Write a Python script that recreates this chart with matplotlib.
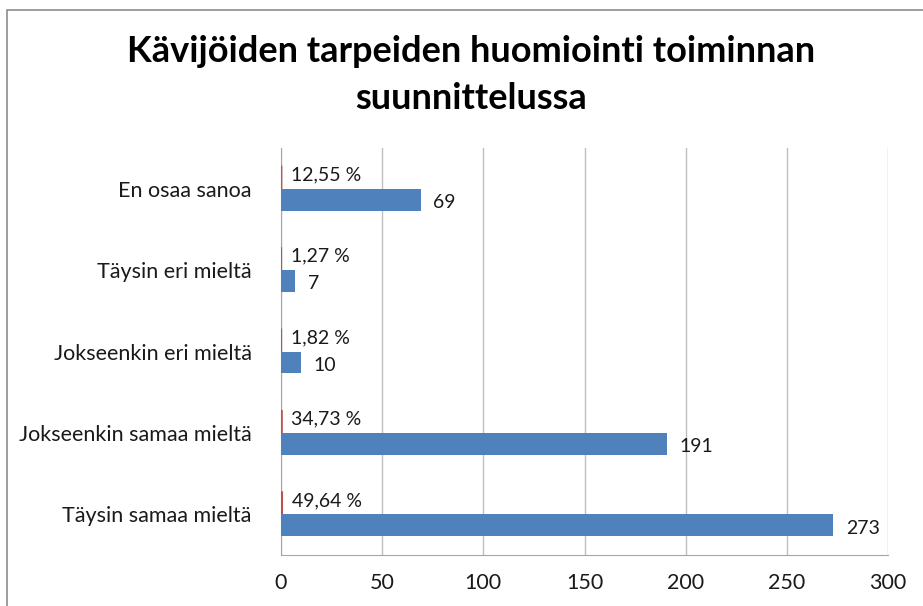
import numpy as np
import matplotlib.pyplot as plt
from matplotlib.patches import Rectangle

# categories from bottom to top
categories = ["Täysin samaa mieltä", "Jokseenkin samaa mieltä", "Jokseenkin eri mieltä",
              "Täysin eri mieltä", "En osaa sanoa"]
counts = [273, 191, 10, 7, 69]
shares = [0.4964, 0.3473, 0.0182, 0.0127, 0.1255]
share_labels = ["49,64 %", "34,73 %", "1,82 %", "1,27 %", "12,55 %"]

plt.rcParams['font.family'] = ['Lato', 'DejaVu Sans']

fig = plt.figure(figsize=(9.23, 6.06), dpi=100)
fig.patches.append(Rectangle((7 / 923, -0.1), 1.2, 1 - 10 / 606 + 0.1,
                             transform=fig.transFigure, fill=False,
                             edgecolor='#8c8c8c', linewidth=1.2))
ax = fig.add_axes([281 / 923, 1 - 555 / 606, (888 - 281) / 923, (555 - 148) / 606])

y = np.arange(len(categories))
w = 0.27
red = ax.barh(y + w / 2, shares, height=w, color='#C0504D', edgecolor='#C0504D',
              linewidth=1.5, zorder=3)
for p in red:
    p.set_snap(False)
ax.barh(y - w / 2, counts, height=w, color='#4F81BD', zorder=3)

for i in range(len(categories)):
    ax.annotate(share_labels[i], (shares[i], y[i] + w / 2), xytext=(7, 2),
                textcoords='offset points', va='center', fontsize=14, color='#1a1a1a')
    ax.annotate(str(counts[i]), (counts[i], y[i] - w / 2), xytext=(9, -2),
                textcoords='offset points', va='center', fontsize=14, color='#1a1a1a')

ax.set_xlim(0, 300)
ax.set_ylim(-0.5, len(categories) - 0.5)
ax.set_xticks(np.arange(0, 301, 50))
ax.set_yticks(y)
ax.set_yticklabels(categories)
ax.tick_params(length=0, labelsize=15.5, colors='#1a1a1a')
ax.tick_params(axis='y', pad=21)
ax.tick_params(axis='x', pad=13)
ax.xaxis.grid(True, color='#bfbfbf', linewidth=1)
ax.set_axisbelow(True)
for s in ['top', 'right']:
    ax.spines[s].set_visible(False)
for s in ['left', 'bottom']:
    ax.spines[s].set_color('#a6a6a6')

fig.text(0.51, 0.876, "Kävijöiden tarpeiden huomiointi toiminnan\nsuunnittelussa",
         ha='center', va='center', fontsize=26, fontweight='bold',
         linespacing=1.5, color='black')

plt.savefig('out.png')
